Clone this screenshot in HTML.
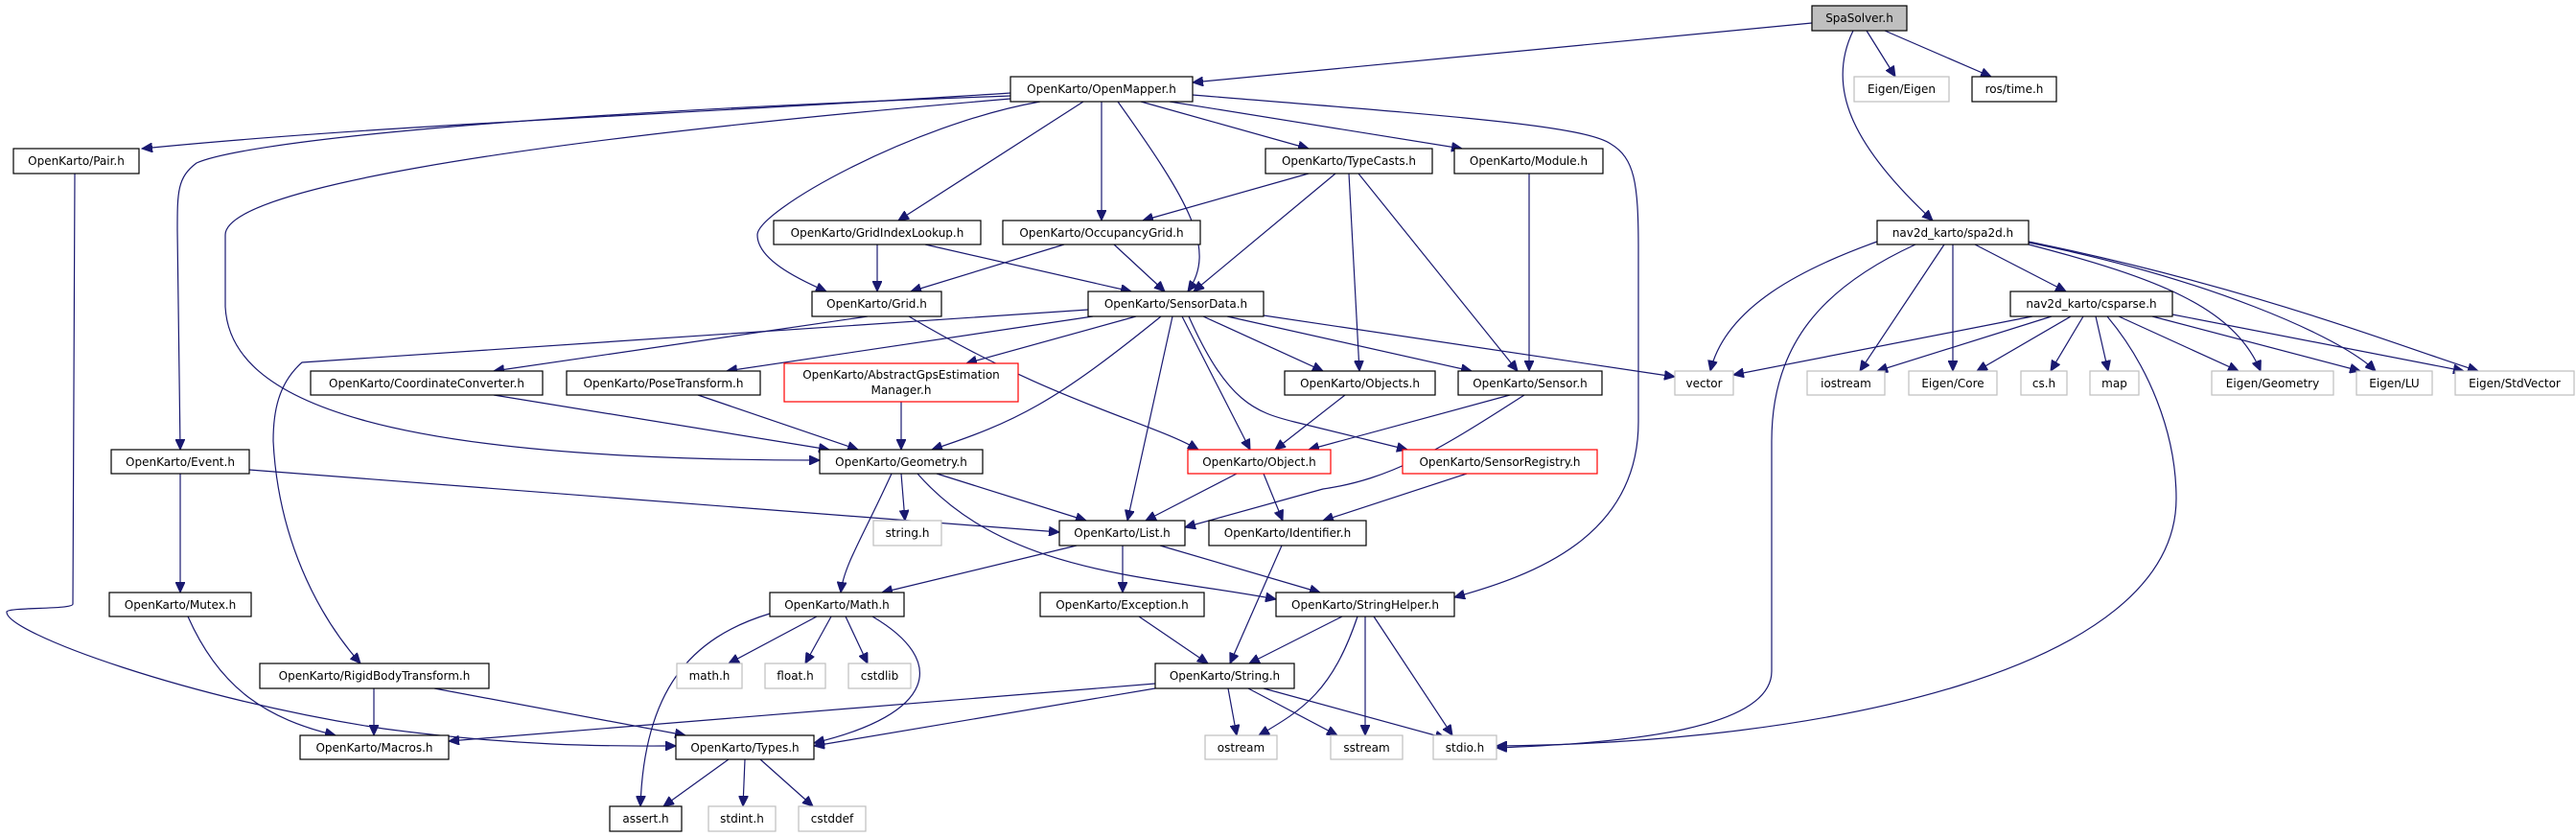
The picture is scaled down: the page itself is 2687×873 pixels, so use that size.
<!DOCTYPE html>
<html><head><meta charset="utf-8"><style>
html,body{margin:0;padding:0;background:#fff;}
svg{display:block;}
text{font-family:"DejaVu Sans","Liberation Sans",sans-serif;font-size:12px;fill:#000;text-anchor:middle;}
.e{fill:none;stroke:#191970;stroke-width:1.2;marker-end:url(#a);}
.n{fill:#fff;stroke:#000;stroke-width:1.2;}
.g{fill:#fff;stroke:#bfbfbf;stroke-width:1.2;}
.r{fill:#fff;stroke:#ff0000;stroke-width:1.2;}
</style></head><body>
<svg width="2687" height="873" viewBox="0 0 2687 873" xmlns="http://www.w3.org/2000/svg">
<defs><marker id="a" markerUnits="userSpaceOnUse" markerWidth="12" markerHeight="10" refX="11" refY="5" orient="auto"><path d="M0,0 L11,5 L0,10 z" fill="#191970" stroke="#191970"/></marker></defs>
<g>
<path class="e" d="M1890,24 L1244,86"/>
<path class="e" d="M1947,32 L1977,80"/>
<path class="e" d="M1966,32 L2077,80"/>
<path class="e" d="M1933,32 C1905,90 1930,150 2016,230"/>
<path class="e" d="M1054,97 C700,120 400,130 148,155"/>
<path class="e" d="M1054,100 C500,120 250,150 205,170 C185,185 185,200 185,240 L188,469"/>
<path class="e" d="M1054,103 C500,150 235,200 235,245 L235,320 C240,420 400,480 855,480"/>
<path class="e" d="M1085,106 C950,130 790,220 790,245 C790,270 830,290 862,304"/>
<path class="e" d="M1130,106 L937,230"/>
<path class="e" d="M1149,106 L1149,230"/>
<path class="e" d="M1166,106 C1240,210 1270,260 1239,304"/>
<path class="e" d="M1190,106 L1365,155"/>
<path class="e" d="M1220,106 L1525,155"/>
<path class="e" d="M1244,99 C1500,120 1650,130 1680,150 C1705,165 1709,190 1709,260 L1709,440 C1709,560 1600,600 1517,623"/>
<path class="e" d="M1365,181 L1192,230"/>
<path class="e" d="M1393,181 L1245,304"/>
<path class="e" d="M1407,181 L1418,387"/>
<path class="e" d="M1417,181 L1583,387"/>
<path class="e" d="M1595,181 L1595,387"/>
<path class="e" d="M915,255 L915,304"/>
<path class="e" d="M965,255 L1180,304"/>
<path class="e" d="M1110,255 L950,304"/>
<path class="e" d="M1162,255 L1215,304"/>
<path class="e" d="M905,330 L515,387"/>
<path class="e" d="M948,330 C1100,420 1200,440 1250,469"/>
<path class="e" d="M1135,323 L315,378 C290,400 285,430 285,460 C290,560 330,640 376,692"/>
<path class="e" d="M1140,330 L758,387"/>
<path class="e" d="M1185,330 L1008,379"/>
<path class="e" d="M1211,330 C1100,420 1060,440 972,469"/>
<path class="e" d="M1223,330 L1176,543"/>
<path class="e" d="M1233,330 L1304,469"/>
<path class="e" d="M1255,330 L1380,387"/>
<path class="e" d="M1280,330 L1535,387"/>
<path class="e" d="M1318,329 L1747,393"/>
<path class="e" d="M1240,330 C1280,420 1310,430 1350,440 L1468,469"/>
<path class="e" d="M515,412 L865,469"/>
<path class="e" d="M728,412 L895,469"/>
<path class="e" d="M940,419 L940,469"/>
<path class="e" d="M1403,412 L1330,469"/>
<path class="e" d="M1575,412 L1365,469"/>
<path class="e" d="M1590,412 C1500,470 1450,500 1380,510 L1236,550"/>
<path class="e" d="M940,494 L944,543"/>
<path class="e" d="M977,494 L1133,543"/>
<path class="e" d="M930,494 C900,560 880,590 877,618"/>
<path class="e" d="M957,494 C1050,600 1200,600 1331,625"/>
<path class="e" d="M260,490 L1105,555"/>
<path class="e" d="M188,494 L188,618"/>
<path class="e" d="M1290,494 L1195,543"/>
<path class="e" d="M1318,494 L1338,543"/>
<path class="e" d="M1530,494 L1380,543"/>
<path class="e" d="M1123,569 L920,618"/>
<path class="e" d="M1171,569 L1171,618"/>
<path class="e" d="M1210,569 L1377,618"/>
<path class="e" d="M1337,569 L1283,692"/>
<path class="e" d="M1188,643 L1260,692"/>
<path class="e" d="M1400,643 L1303,692"/>
<path class="e" d="M1416,643 C1390,720 1360,740 1313,767"/>
<path class="e" d="M1424,643 L1424,767"/>
<path class="e" d="M1433,643 L1515,767"/>
<path class="e" d="M852,643 L760,692"/>
<path class="e" d="M867,643 L840,692"/>
<path class="e" d="M882,643 L905,692"/>
<path class="e" d="M803,640 C720,665 672,720 668,841"/>
<path class="e" d="M910,643 C990,690 975,745 849,775"/>
<path class="e" d="M1205,713 L468,773"/>
<path class="e" d="M1205,718 L849,778"/>
<path class="e" d="M1281,718 L1290,767"/>
<path class="e" d="M1302,718 L1395,767"/>
<path class="e" d="M1318,718 L1508,770"/>
<path class="e" d="M196,643 C230,720 280,750 350,767"/>
<path class="e" d="M390,718 L390,767"/>
<path class="e" d="M453,718 L715,767"/>
<path class="e" d="M78,181 L76,630 C76,636 10,633 7,638 C5,660 200,730 400,760 C550,780 650,778 705,778"/>
<path class="e" d="M760,792 L692,841"/>
<path class="e" d="M777,792 L775,841"/>
<path class="e" d="M793,792 L848,841"/>
<path class="e" d="M1958,252 C1880,280 1800,320 1784,387"/>
<path class="e" d="M2028,255 L1940,387"/>
<path class="e" d="M2037,255 L2037,387"/>
<path class="e" d="M2060,255 L2155,304"/>
<path class="e" d="M2116,255 C2250,290 2330,320 2358,387"/>
<path class="e" d="M2116,253 C2300,290 2440,350 2478,387"/>
<path class="e" d="M2116,252 C2350,300 2500,360 2585,387"/>
<path class="e" d="M1998,255 C1900,300 1848,360 1848,460 L1848,700 C1848,760 1700,775 1561,780"/>
<path class="e" d="M2120,330 L1808,391"/>
<path class="e" d="M2140,330 L1958,387"/>
<path class="e" d="M2160,330 L2062,387"/>
<path class="e" d="M2173,330 L2139,387"/>
<path class="e" d="M2186,330 L2199,387"/>
<path class="e" d="M2198,330 C2240,380 2270,450 2270,520 C2270,700 1900,775 1561,778"/>
<path class="e" d="M2210,330 L2335,387"/>
<path class="e" d="M2245,330 L2462,387"/>
<path class="e" d="M2266,328 L2570,387"/>
</g>
<g>
<rect x="1890" y="6" width="99" height="26" fill="#bfbfbf" stroke="#000" stroke-width="1.2"/><text x="1939.5" y="23">SpaSolver.h</text>
<rect class="n" x="1054" y="80" width="190" height="26"/><text x="1149" y="97">OpenKarto/OpenMapper.h</text>
<rect class="g" x="1934" y="80" width="99" height="26"/><text x="1983.5" y="97">Eigen/Eigen</text>
<rect class="n" x="2057" y="80" width="88" height="26"/><text x="2101" y="97">ros/time.h</text>
<rect class="n" x="14" y="155" width="131" height="26"/><text x="79.5" y="172">OpenKarto/Pair.h</text>
<rect class="n" x="1320" y="155" width="174" height="26"/><text x="1407" y="172">OpenKarto/TypeCasts.h</text>
<rect class="n" x="1517" y="155" width="155" height="26"/><text x="1594.5" y="172">OpenKarto/Module.h</text>
<rect class="n" x="807" y="230" width="216" height="25"/><text x="915" y="247">OpenKarto/GridIndexLookup.h</text>
<rect class="n" x="1046" y="230" width="206" height="25"/><text x="1149" y="247">OpenKarto/OccupancyGrid.h</text>
<rect class="n" x="1958" y="230" width="158" height="25"/><text x="2037" y="247">nav2d_karto/spa2d.h</text>
<rect class="n" x="847" y="304" width="135" height="26"/><text x="914.5" y="321">OpenKarto/Grid.h</text>
<rect class="n" x="1135" y="304" width="183" height="26"/><text x="1226.5" y="321">OpenKarto/SensorData.h</text>
<rect class="n" x="2097" y="304" width="169" height="26"/><text x="2181.5" y="321">nav2d_karto/csparse.h</text>
<rect class="n" x="324" y="387" width="242" height="25"/><text x="445" y="404">OpenKarto/CoordinateConverter.h</text>
<rect class="n" x="591" y="387" width="202" height="25"/><text x="692" y="404">OpenKarto/PoseTransform.h</text>
<rect class="r" x="818" y="379" width="244" height="40"/><text x="940" y="395">OpenKarto/AbstractGpsEstimation</text><text x="940" y="411">Manager.h</text>
<rect class="n" x="1340" y="387" width="157" height="25"/><text x="1418.5" y="404">OpenKarto/Objects.h</text>
<rect class="n" x="1521" y="387" width="150" height="25"/><text x="1596" y="404">OpenKarto/Sensor.h</text>
<rect class="g" x="1747" y="387" width="61" height="25"/><text x="1777.5" y="404">vector</text>
<rect class="g" x="1885" y="387" width="81" height="25"/><text x="1925.5" y="404">iostream</text>
<rect class="g" x="1991" y="387" width="92" height="25"/><text x="2037" y="404">Eigen/Core</text>
<rect class="g" x="2108" y="387" width="48" height="25"/><text x="2132" y="404">cs.h</text>
<rect class="g" x="2180" y="387" width="51" height="25"/><text x="2205.5" y="404">map</text>
<rect class="g" x="2307" y="387" width="127" height="25"/><text x="2370.5" y="404">Eigen/Geometry</text>
<rect class="g" x="2458" y="387" width="79" height="25"/><text x="2497.5" y="404">Eigen/LU</text>
<rect class="g" x="2561" y="387" width="124" height="25"/><text x="2623" y="404">Eigen/StdVector</text>
<rect class="n" x="116" y="469" width="144" height="25"/><text x="188" y="486">OpenKarto/Event.h</text>
<rect class="n" x="855" y="469" width="170" height="25"/><text x="940" y="486">OpenKarto/Geometry.h</text>
<rect class="r" x="1239" y="469" width="149" height="25"/><text x="1313.5" y="486">OpenKarto/Object.h</text>
<rect class="r" x="1463" y="469" width="203" height="25"/><text x="1564.5" y="486">OpenKarto/SensorRegistry.h</text>
<rect class="g" x="911" y="543" width="71" height="26"/><text x="946.5" y="560">string.h</text>
<rect class="n" x="1105" y="543" width="131" height="26"/><text x="1170.5" y="560">OpenKarto/List.h</text>
<rect class="n" x="1261" y="543" width="164" height="26"/><text x="1343" y="560">OpenKarto/Identifier.h</text>
<rect class="n" x="114" y="618" width="148" height="25"/><text x="188" y="635">OpenKarto/Mutex.h</text>
<rect class="n" x="803" y="618" width="140" height="25"/><text x="873" y="635">OpenKarto/Math.h</text>
<rect class="n" x="1085" y="618" width="171" height="25"/><text x="1170.5" y="635">OpenKarto/Exception.h</text>
<rect class="n" x="1331" y="618" width="186" height="25"/><text x="1424" y="635">OpenKarto/StringHelper.h</text>
<rect class="n" x="271" y="692" width="239" height="26"/><text x="390.5" y="709">OpenKarto/RigidBodyTransform.h</text>
<rect class="g" x="706" y="692" width="68" height="26"/><text x="740" y="709">math.h</text>
<rect class="g" x="798" y="692" width="63" height="26"/><text x="829.5" y="709">float.h</text>
<rect class="g" x="885" y="692" width="65" height="26"/><text x="917.5" y="709">cstdlib</text>
<rect class="n" x="1205" y="692" width="145" height="26"/><text x="1277.5" y="709">OpenKarto/String.h</text>
<rect class="n" x="313" y="767" width="155" height="25"/><text x="390.5" y="784">OpenKarto/Macros.h</text>
<rect class="n" x="705" y="767" width="144" height="25"/><text x="777" y="784">OpenKarto/Types.h</text>
<rect class="g" x="1257" y="767" width="75" height="25"/><text x="1294.5" y="784">ostream</text>
<rect class="g" x="1388" y="767" width="75" height="25"/><text x="1425.5" y="784">sstream</text>
<rect class="g" x="1495" y="767" width="66" height="25"/><text x="1528" y="784">stdio.h</text>
<rect class="n" x="636" y="841" width="75" height="26"/><text x="673.5" y="858">assert.h</text>
<rect class="g" x="739" y="841" width="70" height="26"/><text x="774" y="858">stdint.h</text>
<rect class="g" x="833" y="841" width="70" height="26"/><text x="868" y="858">cstddef</text>
</g>
</svg>
</body></html>
